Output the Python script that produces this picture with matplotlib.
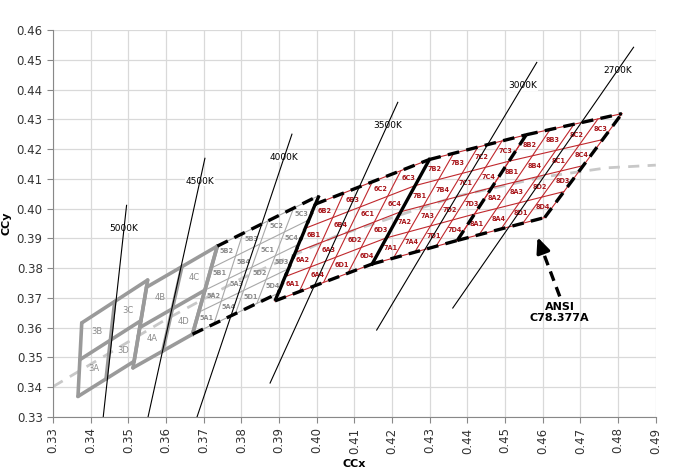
import numpy as np
import matplotlib
matplotlib.use("Agg")
import matplotlib.pyplot as plt

# ANSI C78.377A quadrangles, corners as (x, y): bottom-left, bottom-right, top-right, top-left
q5000 = [(0.3366, 0.3369), (0.3515, 0.3487), (0.3551, 0.3760), (0.3376, 0.3616)]
q4500 = [(0.3512, 0.3465), (0.3670, 0.3578), (0.3736, 0.3874), (0.3548, 0.3736)]
q4000 = [(0.3670, 0.3578), (0.3898, 0.3716), (0.4006, 0.4044), (0.3736, 0.3874)]
q3500 = [(0.3889, 0.3690), (0.4147, 0.3814), (0.4299, 0.4165), (0.3996, 0.4015)]
q3000 = [(0.4147, 0.3814), (0.4373, 0.3893), (0.4556, 0.4248), (0.4299, 0.4165)]
q2700 = [(0.4373, 0.3893), (0.4605, 0.3970), (0.4810, 0.4319), (0.4556, 0.4248)]

coarse_quads = [q5000, q4500]
coarse_prefix = ['3', '4']
fine_quads = [q4000, q3500, q3000, q2700]
fine_prefix = ['5', '6', '7', '8']

# isotherm lines (bottom point, top point)
iso_names = ['5000K', '4500K', '4000K', '3500K', '3000K', '2700K']
iso_x0 = [0.3433, 0.3552, 0.3682, 0.3876, 0.4159, 0.4361]
iso_y0 = [0.3300, 0.3300, 0.3300, 0.3414, 0.3592, 0.3666]
iso_x1 = [0.3495, 0.3703, 0.3934, 0.4215, 0.4584, 0.4841]
iso_y1 = [0.4011, 0.4169, 0.4250, 0.4357, 0.4491, 0.4542]

# planckian locus (grey dashed)
bb_x = [0.330, 0.345, 0.360, 0.380, 0.405, 0.437, 0.460, 0.477, 0.490]
bb_y = [0.3402, 0.3515, 0.3628, 0.3765, 0.3907, 0.4041, 0.4106, 0.4137, 0.4146]

ansi_tip = (0.4586, 0.3904)
ansi_text = (0.4645, 0.3650)

# cell index (u, v) for quarter bins and sub bins
quarter_pos = {'A': (0, 0), 'B': (0, 1), 'C': (1, 1), 'D': (1, 0)}
sub_pos = {'1': (0, 0), '2': (0, 1), '3': (1, 1), '4': (1, 0)}


def bilin(q, u, v):
    bl, br, tr, tl = [np.array(p) for p in q]
    return (1-u)*(1-v)*bl + u*(1-v)*br + u*v*tr + (1-u)*v*tl


def grid_lines(ax, q, n, **kw):
    t = np.linspace(0, 1, 20)
    for k in range(n + 1):
        pts = np.array([bilin(q, k / n, s) for s in t])
        ax.plot(pts[:, 0], pts[:, 1], **kw)
        pts = np.array([bilin(q, s, k / n) for s in t])
        ax.plot(pts[:, 0], pts[:, 1], **kw)


def edge(ax, p0, p1, **kw):
    ax.plot([p0[0], p1[0]], [p0[1], p1[1]], **kw)


fig = plt.figure(figsize=(6.81, 4.76), dpi=100)
ax = fig.add_axes([0.078, 0.124, 0.885, 0.813])

ax.set_xlim(0.33, 0.49)
ax.set_ylim(0.33, 0.46)
ax.set_xticks(np.arange(0.33, 0.4901, 0.01))
ax.set_yticks(np.arange(0.33, 0.4601, 0.01))
ax.set_xticklabels(['%.2f' % v for v in np.arange(0.33, 0.4901, 0.01)], rotation=90)
ax.set_yticklabels(['%.2f' % v for v in np.arange(0.33, 0.4601, 0.01)])
ax.grid(True, color='#d9d9d9', lw=0.9)
ax.set_axisbelow(True)
for s in ['top', 'right']:
    ax.spines[s].set_visible(False)
for s in ['left', 'bottom']:
    ax.spines[s].set_color('#888888')
ax.tick_params(colors='#888888', labelcolor='#333333', labelsize=8.5, length=4, direction='out')
ax.set_xlabel('CCx', fontsize=8, fontweight='bold', labelpad=4)
ax.set_ylabel('CCy', fontsize=8, fontweight='bold', labelpad=4)

# planckian locus
ax.plot(bb_x, bb_y, color='#c8c8c8', lw=2, ls=(0, (4, 3)), zorder=1)

# 5000K / 4500K : 2x2 grey bins
for q, pre in zip(coarse_quads, coarse_prefix):
    grid_lines(ax, q, 2, color='#9a9a9a', lw=2.6, zorder=3, solid_capstyle='round')
    for key, (i, j) in quarter_pos.items():
        c = bilin(q, (i + 0.5) / 2, (j + 0.5) / 2)
        ax.text(c[0], c[1], pre + key, fontsize=6, color='#8c8c8c', ha='center', va='center', zorder=4)

# 4000K ... 2700K : 4x4 bins
for q, pre in zip(fine_quads, fine_prefix):
    if pre == '5':
        lc, tc = '#a8a8a8', '#8c8c8c'
    else:
        lc, tc = '#c0282d', '#a8151a'
    grid_lines(ax, q, 4, color=lc, lw=0.8, zorder=3)
    for key, (i, j) in quarter_pos.items():
        for sk, (a, b) in sub_pos.items():
            c = bilin(q, (2*i + a + 0.5) / 4, (2*j + b + 0.5) / 4)
            ax.text(c[0], c[1], pre + key + sk, fontsize=4.7, fontweight='bold', color=tc,
                    ha='center', va='center', zorder=4)

# 4000K left edge shared with 4500K (grey, heavy)
edge(ax, q4000[0], q4000[3], color='#9a9a9a', lw=2.6, zorder=3)

# ANSI outline (black, dashed)
dash = dict(color='black', lw=2.4, ls=(0, (3.5, 2.2)), zorder=5)
for q in fine_quads:
    edge(ax, q[3], q[2], **dash)
    edge(ax, q[0], q[1], **dash)
edge(ax, q4000[1], q4000[2], **dash)
edge(ax, q3500[0], q3500[3], **dash)
edge(ax, q3000[0], q3000[3], color='black', lw=2.4, zorder=5)
edge(ax, q2700[0], q2700[3], **dash)
edge(ax, q2700[1], q2700[2], **dash)

# isotherm lines, label sits on the line a little below its top end
for name, x0, y0, x1, y1 in zip(iso_names, iso_x0, iso_y0, iso_x1, iso_y1):
    ax.plot([x0, x1], [y0, y1], color='black', lw=0.8, zorder=7, clip_on=True)
    ly = y1 - 0.0077
    lx = x1 - (x1 - x0) / (y1 - y0) * 0.0077
    ax.text(lx, ly, name, fontsize=6.5, ha='center', va='center', zorder=6,
            bbox=dict(facecolor='white', edgecolor='none', pad=0.5))

# ANSI label and arrow: dashed shaft, solid head
tail = (ansi_text[0], ansi_text[1] + 0.0055)
dx, dy = ansi_tip[0] - tail[0], ansi_tip[1] - tail[1]
neck = (ansi_tip[0] - 0.22 * dx, ansi_tip[1] - 0.22 * dy)
ax.plot([tail[0], neck[0]], [tail[1], neck[1]], color='black', lw=2.4, ls=(0, (3, 2)), zorder=8)
ax.annotate('', xy=ansi_tip, xytext=neck,
            arrowprops=dict(arrowstyle='-|>,head_length=0.9,head_width=0.4', color='black',
                            lw=2.4, shrinkA=0, shrinkB=0), zorder=8)
ax.text(ansi_text[0], ansi_text[1], 'ANSI\nC78.377A', fontsize=8, fontweight='bold',
        ha='center', va='center', linespacing=1.1, zorder=8)

fig.savefig('out.png', dpi=100)
